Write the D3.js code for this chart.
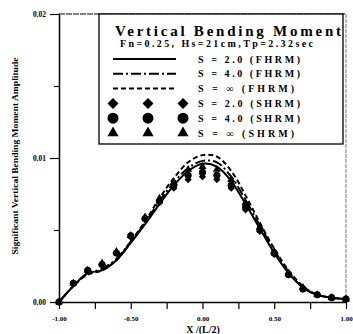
<!DOCTYPE html>
<html>
<head>
<meta charset="utf-8">
<script src="https://cdn.jsdelivr.net/npm/d3@7"></script>
<style>
  body { margin: 0; background: #fff; }
  text { font-family: "Liberation Serif", "Times New Roman", serif; font-weight: bold; }
</style>
</head>
<body>
<div id="chart"></div>
<script>
// Data
var xPos = [-1.0, -0.9, -0.8, -0.7, -0.6, -0.5, -0.4, -0.3, -0.2, -0.1, 0.0,
            0.1, 0.2, 0.3, 0.4, 0.5, 0.6, 0.7, 0.8, 0.9, 1.0];

// FHRM curves
var fhrm20 = [0, 0.0011, 0.0020, 0.0022, 0.0029, 0.0041, 0.0054, 0.0068, 0.0081, 0.0091, 0.0096,
              0.0094, 0.0084, 0.0068, 0.0051, 0.0034, 0.0020, 0.0010, 0.0005, 0.0003, 0.0002];
var fhrm40 = [0, 0.0011, 0.0020, 0.0023, 0.0030, 0.0042, 0.0055, 0.0070, 0.0083, 0.0093, 0.0098,
              0.0097, 0.0087, 0.0071, 0.0053, 0.0036, 0.0021, 0.0010, 0.0005, 0.0003, 0.0002];
var fhrmInf = [0, 0.0011, 0.0019, 0.0022, 0.0029, 0.0042, 0.0056, 0.0072, 0.0086, 0.0097, 0.0102,
               0.0101, 0.0091, 0.0074, 0.0055, 0.0037, 0.0022, 0.0011, 0.0005, 0.0003, 0.0002];

// SHRM points
var shrm20 = [0, 0.0013, 0.0022, 0.0026, 0.0034, 0.0045, 0.0057, 0.0069, 0.0079, 0.0085, 0.0087,
              0.0085, 0.0079, 0.0064, 0.0049, 0.0033, 0.0019, 0.0009, 0.0005, 0.0003, 0.0002];
var shrm40 = [0, 0.0013, 0.0022, 0.0026, 0.0034, 0.0046, 0.0058, 0.0070, 0.0081, 0.0088, 0.0090,
              0.0088, 0.0081, 0.0066, 0.0050, 0.0034, 0.0019, 0.0009, 0.0005, 0.0003, 0.0002];
var shrmInf = [0, 0.0013, 0.0022, 0.0027, 0.0035, 0.0046, 0.0059, 0.0072, 0.0083, 0.0092, 0.0094,
               0.0092, 0.0085, 0.0069, 0.0052, 0.0035, 0.0020, 0.0010, 0.0005, 0.0003, 0.0002];

var xTicks = [-1.0, -0.75, -0.5, -0.25, 0, 0.25, 0.5, 0.75, 1.0];
var xTickLabels = ["-1.00", "", "-0.50", "", "0.00", "", "0.50", "", "1.00"];
var yTicks = [0, 0.005, 0.01, 0.015, 0.02];
var yTickLabels = ["0.00", "", "0.01", "", "0.02"];

var legendLabels = ["S = 2.0 (FHRM)", "S = 4.0 (FHRM)", "S = \u221E (FHRM)",
                    "S = 2.0 (SHRM)", "S = 4.0 (SHRM)", "S = \u221E (SHRM)"];

let width = 353;
let height = 334;
let plotLeft = 59, plotRight = 346, plotTop = 14, plotBottom = 302;

var svg = d3.select("#chart")
  .append("svg")
  .attr("width", width)
  .attr("height", height);

let x = d3.scaleLinear().domain([-1, 1]).range([plotLeft, plotRight]);
let y = d3.scaleLinear().domain([0, 0.02]).range([plotBottom, plotTop]);

// frame (top / right are greyish in the scan)
svg.append("line")
  .attr("x1", plotLeft).attr("x2", plotRight).attr("y1", plotTop).attr("y2", plotTop)
  .style("stroke", "#555").style("stroke-width", 1.5).style("stroke-dasharray", "6,1");
svg.append("line")
  .attr("x1", plotRight).attr("x2", plotRight).attr("y1", plotTop).attr("y2", plotBottom)
  .style("stroke", "#777").style("stroke-width", 1).style("stroke-dasharray", "4,1");

// Axes
let xAxis = d3.axisBottom(x)
  .tickValues(xTicks)
  .tickFormat((d, i) => xTickLabels[i])
  .tickSizeInner(7)
  .tickSizeOuter(0);

let yAxis = d3.axisLeft(y)
  .tickValues(yTicks)
  .tickFormat((d, i) => yTickLabels[i])
  .tickSize(9)
  .tickSizeOuter(0)
  .tickPadding(4);

let gx = svg.append("g")
  .attr("transform", "translate(0," + plotBottom + ")")
  .call(xAxis);
gx.select(".domain").style("stroke-width", 1.5);
gx.selectAll(".tick line").style("stroke-width", 1.2);
gx.selectAll("text")
  .style("font-family", "Liberation Serif").style("font-weight", "bold")
  .style("font-size", "7px")
  .attr("y", 19).attr("dy", 0);

let gy = svg.append("g")
  .attr("transform", "translate(" + plotLeft + ",0)")
  .call(yAxis);
gy.select(".domain").style("stroke-width", 1.5);
gy.selectAll(".tick line")
  .style("stroke-width", 1.2)
  .attr("x2", (d, i) => yTickLabels[i] ? -9 : -5);
gy.selectAll("text")
  .style("font-family", "Liberation Serif").style("font-weight", "bold")
  .style("font-size", "7.5px")
  .attr("x", -13);

// Axis titles
svg.append("text")
  .attr("x", 203)
  .attr("y", 333)
  .attr("text-anchor", "middle")
  .style("font-size", "10px")
  .text("X /(L/2)");

svg.append("text")
  .attr("transform", "translate(18,156) rotate(-90)")
  .attr("text-anchor", "middle")
  .attr("textLength", 197)
  .attr("lengthAdjust", "spacingAndGlyphs")
  .style("font-size", "9px")
  .text("Significant Vertical Bending Moment Amplitude");

// Curves
let lineGen = d3.line()
  .x((d, i) => x(xPos[i]))
  .y(d => y(d))
  .curve(d3.curveCatmullRom.alpha(0.5));

var curves = [
  { values: fhrm20, dash: null },
  { values: fhrm40, dash: "10,3,2,3" },
  { values: fhrmInf, dash: "5,3" }
];

curves.forEach(function (c) {
  svg.append("path")
    .attr("d", lineGen(c.values))
    .style("fill", "none")
    .style("stroke", "black")
    .style("stroke-width", 2)
    .style("stroke-dasharray", c.dash);
});

// Markers (diamond = rotated square)
var markers = [
  { values: shrm20, type: d3.symbolSquare, rot: 45, size: 26, legendSize: 60 },
  { values: shrm40, type: d3.symbolCircle, rot: 0, size: 40, legendSize: 95 },
  { values: shrmInf, type: d3.symbolTriangle, rot: 0, size: 28, legendSize: 55 }
];

markers.forEach(function (m) {
  svg.append("g").selectAll("path")
    .data(m.values)
    .enter()
    .append("path")
    .attr("d", d3.symbol().type(m.type).size(m.size))
    .attr("transform", (d, i) => "translate(" + x(xPos[i]) + "," + y(d) + ") rotate(" + m.rot + ")")
    .style("fill", "black");
});

// Legend box
svg.append("rect")
  .attr("x", 99).attr("y", plotTop)
  .attr("width", 244).attr("height", 130)
  .style("fill", "white")
  .style("stroke", "black")
  .style("stroke-width", 1.3);

svg.append("text")
  .attr("x", 115).attr("y", 36)
  .attr("textLength", 226)
  .attr("lengthAdjust", "spacing")
  .style("font-size", "15px")
  .text("Vertical Bending Moment");

svg.append("text")
  .attr("x", 120).attr("y", 47)
  .attr("textLength", 193)
  .attr("lengthAdjust", "spacing")
  .style("font-size", "10px")
  .text("Fn=0.25, Hs=21cm,Tp=2.32sec");

let rowY = i => 59 + i * 14.8;

curves.forEach(function (c, i) {
  svg.append("line")
    .attr("x1", 113).attr("x2", 176)
    .attr("y1", rowY(i)).attr("y2", rowY(i))
    .style("stroke", "black")
    .style("stroke-width", 2)
    .style("stroke-dasharray", c.dash);
});

markers.forEach(function (m, i) {
  [113, 148, 183].forEach(function (mx) {
    svg.append("path")
      .attr("d", d3.symbol().type(m.type).size(m.legendSize))
      .attr("transform", "translate(" + mx + "," + rowY(i + 3) + ") rotate(" + m.rot + ")")
      .style("fill", "black");
  });
});

legendLabels.forEach(function (lab, i) {
  svg.append("text")
    .attr("x", 198).attr("y", rowY(i) + 3.5)
    .attr("textLength", lab.indexOf("\u221E") >= 0 ? 96 : 102)
    .attr("lengthAdjust", "spacing")
    .style("font-size", "10px")
    .text(lab);
});
</script>
</body>
</html>
